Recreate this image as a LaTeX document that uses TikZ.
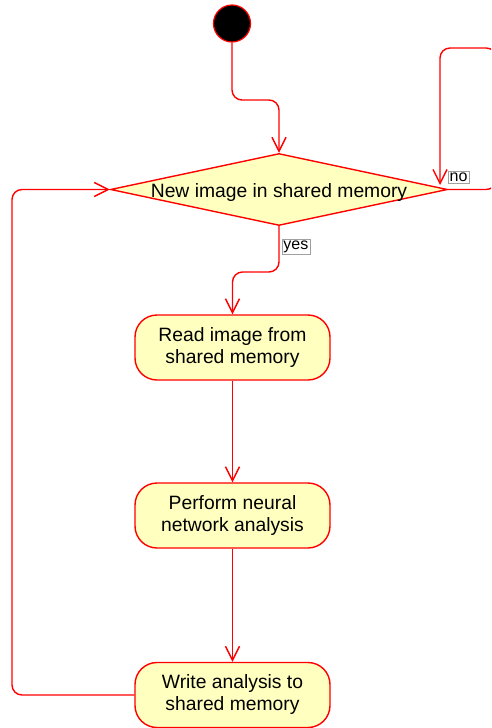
\documentclass[tikz,border=0pt]{standalone}
\usepackage{fontspec}
\setmainfont{Liberation Sans}
\usetikzlibrary{shapes.geometric,arrows.meta}
\definecolor{actfill}{HTML}{FFFFC0}
\definecolor{actline}{HTML}{FF0000}
\definecolor{tagline}{HTML}{A0A0A0}
\tikzset{
  flow/.style={draw=actline, line width=1.4pt, rounded corners=10pt,
    -{Straight Barb[length=14pt,width=14pt]}},
  activity/.style={draw=actline, fill=actfill, line width=1.4pt,
    rounded corners=22pt, minimum width=195pt, minimum height=65pt,
    align=center, inner sep=0pt, font=\fontsize{19.3}{22}\selectfont},
  decision/.style={diamond, draw=actline, fill=actfill, line width=1.4pt,
    minimum width=337pt, minimum height=72pt, inner sep=0pt},
  dectext/.style={anchor=base, inner sep=0pt, font=\fontsize{19.3}{22}\selectfont},
  startdot/.style={circle, draw=actline, fill=black, line width=1.2pt,
    minimum size=37pt, inner sep=0pt},
  guard/.style={draw=tagline, fill=white, line width=0.7pt, inner sep=1.6pt,
    font=\fontsize{16}{18}\selectfont},
}
\begin{document}
\begin{tikzpicture}[x=1pt, y=-1pt]
  \useasboundingbox (0,0) rectangle (491,728);
  \clip (0,0) rectangle (491,728);

  % nodes
  \node[startdot] (start) at (232,23.5) {};
  \node[decision] (dec) at (279,189.5) {};
  \node[dectext] (dectext) at (279,197) {New image in shared memory};
  \node[activity] (box1) at (232.5,347.5) {Read image from\\shared memory};
  \node[activity] (box2) at (232.5,515.5) {Perform neural\\network analysis};
  \node[activity] (box3) at (232.5,695) {Write analysis to\\shared memory};

  \coordinate (lft) at (12,0);
  \coordinate (noend) at (440,185);

  % connectors
  \draw[flow] (start) -- (232,100) -| (dec.north);
  \draw[flow] (dec.south) -- (279,272) -| (box1.north);
  \draw[flow] (box1) -- (box2);
  \draw[flow] (box2) -- (box3);
  \draw[flow] (box3.west) -| (lft |- dec.west) -- (dec.west);
  \draw[flow] (dec.east) -- ++(48,0) |- (noend |- 0,48) -- (noend);

  % guards
  \node[guard, anchor=west] (yes) at (281.5,246.7) {yes};
  \node[guard] (no) at (458.5,177) {no};
\end{tikzpicture}
\end{document}
